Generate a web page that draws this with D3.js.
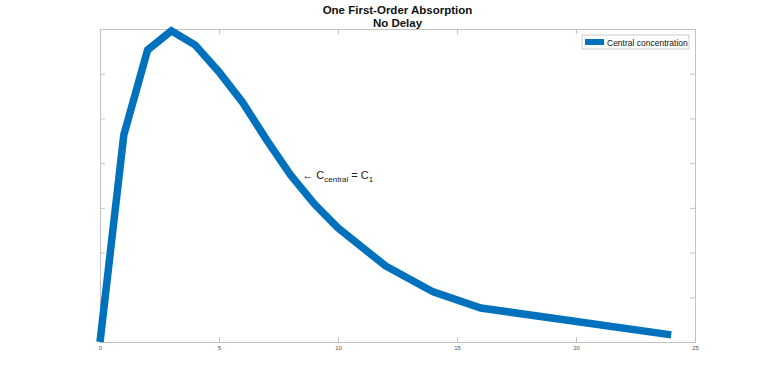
<!DOCTYPE html>
<html>
<head>
<meta charset="utf-8">
<script src="https://cdn.jsdelivr.net/npm/d3@7"></script>
<style>
  body { margin: 0; background: #fff; }
  text { font-family: "Liberation Sans", Arial, sans-serif; }
</style>
</head>
<body>
<script>
// data
var times = [0, 1, 2, 3, 4, 5, 6, 7, 8, 9, 10, 12, 14, 16, 24];
var conc = [0, 4.63, 6.53, 6.96, 6.64, 6.04, 5.35, 4.52, 3.74, 3.09, 2.55, 1.70, 1.12, 0.76, 0.16];
var xTicks = [0, 5, 10, 15, 20, 25];
var yTicks = [0, 1, 2, 3, 4, 5, 6, 7];
var titleLines = ["One First-Order Absorption", "No Delay"];
var legendLabel = "Central concentration";

var svgWidth = 768;
var svgHeight = 385;
var margin = {top: 29, right: 73, bottom: 43, left: 100};
var width = svgWidth - margin.left - margin.right;
var height = svgHeight - margin.top - margin.bottom;

var axisColor = "#c2c2c2";
var lineColor = "#0072bd";

var svg = d3.select("body")
  .append("svg")
  .attr("width", svgWidth)
  .attr("height", svgHeight);

var chartGroup = svg.append("g")
  .attr("transform", `translate(${margin.left}, ${margin.top})`);

var xScale = d3.scaleLinear().domain([0, 25]).range([0, width]);
var yScale = d3.scaleLinear().domain([0, 7]).range([height, 0]);

function styleAxis(g) {
  g.select(".domain").attr("stroke", axisColor);
  g.selectAll(".tick line").attr("stroke", axisColor);
  g.selectAll(".tick text").attr("fill", "#555").attr("font-size", "6px");
}

// bottom + top axes (ticks inside)
chartGroup.append("g")
  .attr("transform", `translate(0,${height})`)
  .call(d3.axisBottom(xScale).tickValues(xTicks).tickSize(-5).tickPadding(4))
  .call(styleAxis);
chartGroup.append("g")
  .call(d3.axisTop(xScale).tickValues(xTicks).tickSize(-5).tickFormat(""))
  .call(styleAxis);

// left + right axes, no labels
chartGroup.append("g")
  .call(d3.axisLeft(yScale).tickValues(yTicks).tickSize(-5).tickFormat(""))
  .call(styleAxis);
chartGroup.append("g")
  .attr("transform", `translate(${width},0)`)
  .call(d3.axisRight(yScale).tickValues(yTicks).tickSize(-5).tickFormat(""))
  .call(styleAxis);

// the curve
var points = times.map((t, i) => [t, conc[i]]);
var line = d3.line()
  .x(d => xScale(d[0]))
  .y(d => yScale(d[1]));

chartGroup.append("path")
  .datum(points)
  .attr("d", line)
  .attr("fill", "none")
  .attr("stroke", lineColor)
  .attr("stroke-width", 7.5)
  .attr("stroke-linejoin", "miter");

// title
svg.append("g").selectAll("text")
  .data(titleLines)
  .enter()
  .append("text")
  .attr("x", margin.left + width / 2)
  .attr("y", (d, i) => 14 + i * 12.5)
  .attr("text-anchor", "middle")
  .attr("font-size", "11.5px")
  .attr("font-weight", "bold")
  .attr("fill", "#111")
  .text(d => d);

// annotation
var ann = chartGroup.append("text")
  .attr("x", xScale(8.5))
  .attr("y", yScale(3.65))
  .attr("font-size", "11px")
  .attr("fill", "#222");
ann.append("tspan").text("\u2190 C");
ann.append("tspan").attr("font-size", "8px").attr("dy", 3).text("central");
ann.append("tspan").attr("dy", -3).text(" = C");
ann.append("tspan").attr("font-size", "8px").attr("dy", 3).text("1");

// legend
var legend = svg.append("g")
  .attr("transform", "translate(582,35)");
legend.append("rect")
  .attr("width", 107)
  .attr("height", 14)
  .attr("fill", "#fff")
  .attr("stroke", "#bdbdbd")
  .attr("stroke-width", 0.8);
legend.append("line")
  .attr("x1", 3).attr("x2", 22)
  .attr("y1", 7).attr("y2", 7)
  .attr("stroke", lineColor)
  .attr("stroke-width", 6);
legend.append("text")
  .attr("x", 25)
  .attr("y", 10.5)
  .attr("font-size", "8.5px")
  .attr("fill", "#111")
  .text(legendLabel);
</script>
</body>
</html>
